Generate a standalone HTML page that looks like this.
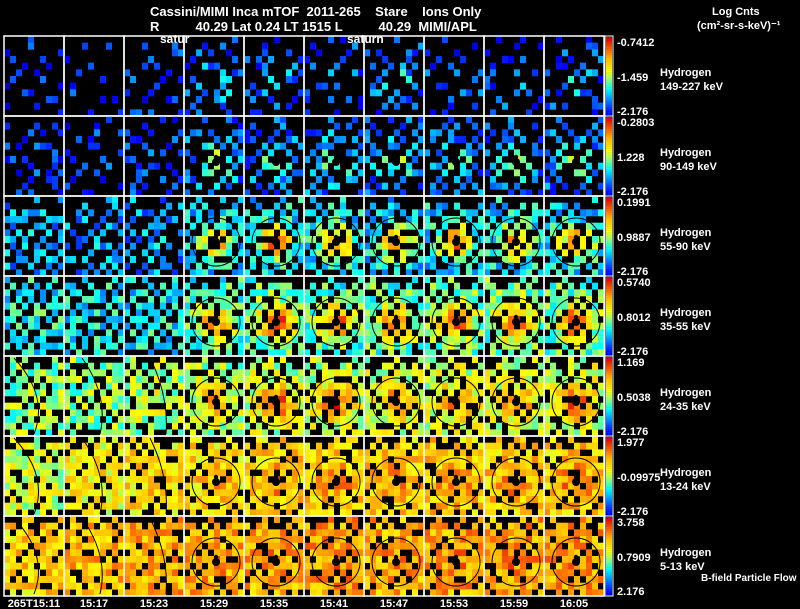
<!DOCTYPE html>
<html><head><meta charset="utf-8">
<style>
body{margin:0;background:#000;width:800px;height:609px;overflow:hidden;font-family:"Liberation Sans",sans-serif;color:#fff}
svg{display:block}
</style></head>
<body>
<svg id="chart" width="800" height="609" xmlns="http://www.w3.org/2000/svg" font-family="Liberation Sans, sans-serif" fill="#fff">
<rect width="800" height="609" fill="#000"/>
<text x="150" y="16" font-size="13" font-weight="bold" xml:space="preserve">Cassini/MIMI Inca mTOF  2011-265    Stare    Ions Only</text>
<text x="150" y="31" font-size="13" font-weight="bold" xml:space="preserve">R          40.29 Lat 0.24 LT 1515 L          40.29  MIMI/APL</text>
<text x="160" y="43" font-size="12" font-weight="bold">satur</text>
<text x="347" y="43" font-size="12" font-weight="bold">saturn</text>
<text x="712" y="15" font-size="11" font-weight="bold">Log Cnts</text>
<text x="697" y="29" font-size="11" font-weight="bold">(cm²-sr-s-keV)⁻¹</text>
<text x="701" y="581" font-size="10" font-weight="bold">B-field Particle Flow</text>
<g id="panels"></g>
</svg>
<script>
// ---- data ----
const times = ["265T15:11","15:17","15:23","15:29","15:35","15:41","15:47","15:53","15:59","16:05"];
const species = ["149-227 keV","90-149 keV","55-90 keV","35-55 keV","24-35 keV","13-24 keV","5-13 keV"];
const cbMax = ["-0.7412","-0.2803","0.1991","0.5740","1.169","1.977","3.758"];
const cbMid = ["-1.459","1.228","0.9887","0.8012","0.5038","-0.09975","0.7909"];
const cbMin = ["-2.176","-2.176","-2.176","-2.176","-2.176","-2.176","2.176"];
// background level (0..1 colour scale) per row, per time column
const bgLevel = [
 [0.16,0.16,0.18,0.2,0.2,0.2,0.2,0.2,0.2,0.2],
 [0.18,0.18,0.18,0.24,0.24,0.26,0.24,0.24,0.24,0.24],
 [0.3,0.28,0.28,0.34,0.36,0.36,0.34,0.36,0.36,0.36],
 [0.4,0.38,0.38,0.44,0.46,0.44,0.46,0.48,0.48,0.46],
 [0.5,0.5,0.54,0.54,0.56,0.56,0.56,0.58,0.58,0.58],
 [0.58,0.64,0.68,0.68,0.7,0.7,0.7,0.71,0.71,0.71],
 [0.7,0.74,0.76,0.76,0.76,0.78,0.76,0.78,0.78,0.78]];
// peak level at the Saturn-centred bright spot
const peakLevel = [
 [0.18,0.18,0.22,0.45,0.4,0.3,0.45,0.3,0.3,0.35],
 [0.2,0.2,0.25,0.6,0.5,0.5,0.55,0.5,0.6,0.55],
 [0.34,0.32,0.32,0.78,0.86,0.83,0.8,0.83,0.78,0.83],
 [0.45,0.4,0.4,0.82,0.93,0.9,0.88,0.88,0.88,0.93],
 [0.55,0.55,0.6,0.78,0.93,0.9,0.83,0.8,0.83,0.88],
 [0.62,0.68,0.72,0.76,0.83,0.83,0.83,0.83,0.83,0.86],
 [0.72,0.76,0.78,0.8,0.82,0.83,0.8,0.82,0.83,0.83]];
// fraction of cells with counts
const coverage = [
 [0.12,0.1,0.14,0.25,0.22,0.2,0.22,0.2,0.18,0.22],
 [0.22,0.2,0.24,0.35,0.35,0.35,0.35,0.35,0.35,0.35],
 [0.42,0.4,0.4,0.52,0.55,0.55,0.55,0.52,0.52,0.52],
 [0.58,0.55,0.55,0.62,0.64,0.64,0.64,0.64,0.64,0.64],
 [0.64,0.62,0.64,0.68,0.7,0.7,0.7,0.7,0.7,0.7],
 [0.72,0.74,0.74,0.74,0.76,0.76,0.76,0.76,0.76,0.76],
 [0.78,0.8,0.8,0.8,0.8,0.8,0.8,0.8,0.8,0.8]];
// fixed cell-occupancy / texture pattern (10 x 12 cells)
const speckle = "3719052846"+"8264017395"+"1593728460"+"6047381952"+"2851963074"+"9406215837"+"5172840693"+"0738596241"+"4620173589"+"7385926014"+"1958302476"+"6243718950";

// ---- rendering ----
const ns="http://www.w3.org/2000/svg";
const G=document.getElementById('panels');
const X0=4,Y0=36,PW=60,PH=80,NC=10,NR=12,CW=6,CH=PH/NR;
function px(c){return X0+c*PW;}
function py(r){return Y0+r*PH;}
function jet(t){
 t=Math.max(0,Math.min(1,t));
 const stops=[[0,0,0,160],[0.12,0,0,255],[0.3,0,150,255],[0.4,0,255,255],[0.5,120,255,140],[0.62,255,255,0],[0.75,255,190,0],[0.87,255,100,0],[1,210,0,0]];
 for(let i=1;i<stops.length;i++){if(t<=stops[i][0]){const a=stops[i-1],b=stops[i],f=(t-a[0])/(b[0]-a[0]);
  return `rgb(${Math.round(a[1]+f*(b[1]-a[1]))},${Math.round(a[2]+f*(b[2]-a[2]))},${Math.round(a[3]+f*(b[3]-a[3]))})`;}}
 return 'rgb(210,0,0)';
}
function mk(tag,attrs,parent){const e=document.createElementNS(ns,tag);for(const k in attrs)e.setAttribute(k,attrs[k]);(parent||G).appendChild(e);return e;}
const N=speckle.length;
for(let r=0;r<species.length;r++){
 for(let c=0;c<times.length;c++){
  const g=mk('g',{});
  
  
  const x0=px(c),y0=py(r);
  const cx=x0+32,cy=y0+46;
  const off=r*37+c*53;
  for(let j=0;j<NR;j++)for(let i=0;i<NC;i++){
   const s=+speckle[(j*NC+i+off)%N], s2=+speckle[(j*17+i*29+off*3+5)%N];
   let cov=coverage[r][c];
   if(j===0)cov*=0.35; else if(j===1)cov*=0.7;
   if(j===NR-1)cov*=0.8;
   if(s/10>=cov)continue;
   const dx=(x0+i*CW+3-cx),dy=(y0+j*CH+3-cy);
   const d2=(dx*dx+dy*dy)/(17*17);
   const v=bgLevel[r][c]+(peakLevel[r][c]-bgLevel[r][c])*Math.exp(-d2)+(s2-4.5)*0.025;
   const cell=mk('rect',{x:x0+i*CW,y:(y0+j*CH).toFixed(2),width:CW,height:(CH+0.3).toFixed(2),fill:jet(v)},g);
   
   
  }
  if(r>=2 && c>=3){
   mk('circle',{cx:cx,cy:cy,r:24,fill:'none',stroke:'#000','stroke-width':1},g);
  }
  if(r>=4 && c<3){
   mk('path',{d:`M${x0+10+c*8} ${y0+2} Q${x0+45} ${y0+40} ${x0+30+c*6} ${y0+78}`,fill:'none',stroke:'#000','stroke-width':1},g);
  }
  if(c>=3 && r>=1){
   mk('circle',{cx:cx,cy:cy,r:4,fill:'#000'},g);
   mk('circle',{cx:cx,cy:cy-5,r:2.2,fill:'#000'},g);
  }
  mk('rect',{x:x0,y:y0,width:PW,height:PH,fill:'none',stroke:'#fff','stroke-width':1.5},g);
 }
 const cb=mk('g',{});
 
 
 const yb=py(r);
 for(let k=0;k<40;k++){mk('rect',{x:606,y:(yb+1+k*1.95).toFixed(2),width:6,height:2.1,fill:jet(0.12+0.88*(1-k/39))},cb);}
 mk('rect',{x:605,y:yb,width:8,height:PH,fill:'none',stroke:'#fff','stroke-width':1},cb);
 const t1=mk('text',{x:617,y:yb+10,'font-size':11,'font-weight':'bold'},cb);t1.textContent=cbMax[r];
 
 const t2=mk('text',{x:617,y:yb+45,'font-size':11,'font-weight':'bold'},cb);t2.textContent=cbMid[r];
 
 const t3=mk('text',{x:617,y:yb+79,'font-size':11,'font-weight':'bold'},cb);t3.textContent=cbMin[r];
 
 const h1=mk('text',{x:660,y:yb+40,'font-size':11,'font-weight':'bold'});h1.textContent='Hydrogen';
 
 const h2=mk('text',{x:660,y:yb+54,'font-size':11,'font-weight':'bold'});h2.textContent=species[r];
 
}
for(let c=0;c<times.length;c++){
 const t=mk('text',{x:px(c)+30,y:607,'font-size':11,'font-weight':'bold','text-anchor':'middle'});
 t.textContent=times[c];
 
 
}
</script>
</body></html>
